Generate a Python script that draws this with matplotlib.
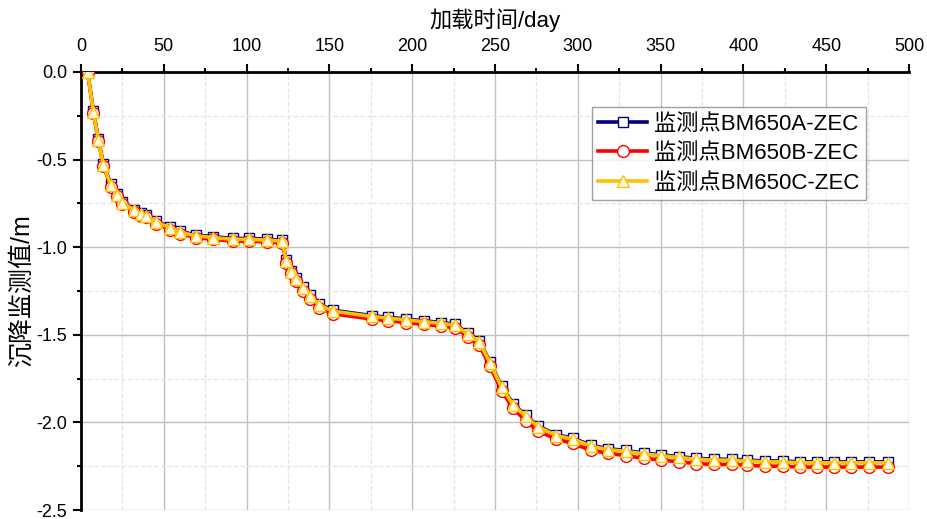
import matplotlib
matplotlib.use('Agg')
import matplotlib.pyplot as plt
from matplotlib.ticker import MultipleLocator, FormatStrFormatter

plt.rcParams['font.family'] = ['Liberation Sans', 'Noto Sans CJK SC']

# 加载时间 (day)
days = [4, 7.5, 10.5, 13.5, 18, 21.5, 25, 32, 36, 39,
        45, 54, 60, 69.5, 80, 91.5, 101.5, 112.5, 121.5, 124,
        127, 130, 134, 138, 144, 152, 175.5, 185.5, 196.5, 207,
        217.5, 226, 233.5, 240.5, 247, 254, 261, 268.5, 276, 287,
        297, 308, 318, 329, 340, 350.5, 361, 371.5, 382, 393,
        402, 413, 424, 434, 444.5, 455, 465, 476, 487.5]

bm650a = [0, -0.225, -0.385, -0.525, -0.64, -0.695, -0.74, -0.785, -0.805, -0.815,
          -0.85, -0.885, -0.91, -0.93, -0.94, -0.95, -0.95, -0.955, -0.96, -1.075,
          -1.135, -1.175, -1.23, -1.275, -1.325, -1.36, -1.39, -1.40, -1.41, -1.42,
          -1.43, -1.44, -1.49, -1.535, -1.655, -1.795, -1.895, -1.96, -2.02, -2.07,
          -2.09, -2.13, -2.15, -2.16, -2.175, -2.185, -2.195, -2.205, -2.21, -2.21,
          -2.215, -2.22, -2.22, -2.225, -2.225, -2.225, -2.225, -2.225, -2.225]

bm650b = [0, -0.235, -0.395, -0.535, -0.655, -0.71, -0.755, -0.80, -0.82, -0.83,
          -0.865, -0.90, -0.925, -0.945, -0.955, -0.965, -0.965, -0.97, -0.975, -1.09,
          -1.15, -1.195, -1.25, -1.295, -1.345, -1.38, -1.41, -1.42, -1.43, -1.44,
          -1.45, -1.46, -1.51, -1.56, -1.68, -1.82, -1.92, -1.99, -2.05, -2.095,
          -2.12, -2.16, -2.175, -2.19, -2.205, -2.215, -2.225, -2.235, -2.24, -2.24,
          -2.245, -2.25, -2.25, -2.255, -2.255, -2.255, -2.255, -2.255, -2.255]

bm650c = [0, -0.23, -0.39, -0.53, -0.645, -0.70, -0.745, -0.79, -0.81, -0.82,
          -0.855, -0.89, -0.915, -0.935, -0.945, -0.955, -0.955, -0.96, -0.965, -1.08,
          -1.14, -1.18, -1.235, -1.28, -1.33, -1.365, -1.395, -1.405, -1.415, -1.425,
          -1.435, -1.445, -1.495, -1.54, -1.66, -1.80, -1.90, -1.965, -2.025, -2.075,
          -2.095, -2.135, -2.155, -2.165, -2.18, -2.19, -2.20, -2.21, -2.215, -2.215,
          -2.22, -2.225, -2.225, -2.23, -2.23, -2.23, -2.23, -2.23, -2.23]

fig = plt.figure(figsize=(9.27, 5.19), dpi=100)
ax = fig.add_axes([0.0874, 0.0173, 0.8932, 0.844])

ax.plot(days, bm650a, color='#000080', lw=2.6, marker='s', ms=7,
        mfc='white', mec='#000080', mew=1.0, label='监测点BM650A-ZEC', zorder=3)
ax.plot(days, bm650b, color='#ff0000', lw=2.6, marker='o', ms=8.5,
        mfc='white', mec='#ff0000', mew=1.0, label='监测点BM650B-ZEC', zorder=4)
ax.plot(days, bm650c, color='#ffc000', lw=2.6, marker='^', ms=9,
        mfc='#fffbe6', mec='#ffc000', mew=1.0, label='监测点BM650C-ZEC', zorder=5)

ax.set_xlim(0, 500)
ax.set_ylim(-2.5, 0)

ax.xaxis.set_major_locator(MultipleLocator(50))
ax.xaxis.set_minor_locator(MultipleLocator(25))
ax.yaxis.set_major_locator(MultipleLocator(0.5))
ax.yaxis.set_minor_locator(MultipleLocator(0.25))
ax.yaxis.set_major_formatter(FormatStrFormatter('%.1f'))

ax.xaxis.tick_top()
ax.xaxis.set_label_position('top')
ax.tick_params(axis='both', which='major', direction='out', length=6, width=1.5,
               labelsize=13)
ax.tick_params(axis='both', which='minor', direction='out', length=3, width=1.5)
ax.tick_params(axis='x', which='major', pad=6)
ax.tick_params(axis='y', which='major', pad=4)

for s in ['bottom', 'right']:
    ax.spines[s].set_visible(False)
for s in ['top', 'left']:
    ax.spines[s].set_linewidth(2)

ax.grid(which='major', color='#c0c0c0', lw=1.0, ls='-')
ax.grid(which='minor', color='#e4e4e4', lw=0.9, ls='--')
ax.set_axisbelow(True)

ax.set_xlabel('加载时间/day', fontsize=16, labelpad=8)
ax.set_ylabel('沉降监测值/m', fontsize=18, labelpad=2)

leg = ax.legend(loc='upper right', bbox_to_anchor=(0.948, 0.92), fontsize=16,
                frameon=True, fancybox=False, edgecolor='#888888',
                handlelength=2.2, handletextpad=0.3, borderpad=0.3,
                labelspacing=0.38, borderaxespad=0)
leg.get_frame().set_linewidth(1.0)

fig.savefig('out.png', dpi=100)
